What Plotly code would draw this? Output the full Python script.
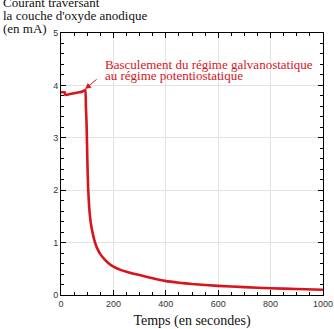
import plotly.graph_objects as go

# Time (s) and current (mA)
temps = [0, 5, 10, 14, 16, 20, 30, 40, 50, 60, 70, 80, 88, 93, 95, 98, 100, 102, 104,
         108, 113, 120, 130, 140, 150, 168, 185, 200, 232, 260, 282, 300, 350, 397,
         450, 500, 600, 700, 800, 900, 1000]
courant = [3.87, 3.87, 3.87, 3.87, 3.82, 3.82, 3.83, 3.84, 3.85, 3.86, 3.87, 3.88,
           3.90, 3.91, 3.6, 3.2, 2.7, 2.3, 2.0, 1.65, 1.4, 1.2, 1.0, 0.87, 0.78,
           0.67, 0.59, 0.54, 0.47, 0.43, 0.40, 0.38, 0.32, 0.27, 0.235, 0.21,
           0.175, 0.15, 0.13, 0.115, 0.10]

x_ticks = [0, 200, 400, 600, 800, 1000]
y_ticks = [0, 1, 2, 3, 4, 5]

ytitle_lines = ["Courant traversant", "la couche d'oxyde anodique", "(en mA)"]
note_lines = ["Basculement du régime galvanostatique", "au régime potentiostatique"]

RED = "#d8141c"
SERIF = "Liberation Serif, Times New Roman, serif"

fig = go.Figure()
fig.add_trace(go.Scatter(x=temps, y=courant, mode="lines",
                         line=dict(color=RED, width=2.6, shape="spline", smoothing=0.4),
                         hoverinfo="skip"))

axis_common = dict(
    showline=True, linecolor="black", linewidth=1, mirror="ticks",
    ticks="inside", ticklen=5, tickcolor="black",
    showgrid=True, gridcolor="#e3e3e3", gridwidth=1, zeroline=False,
    automargin=False,
    tickfont=dict(family="Liberation Sans, Arial, sans-serif", size=9, color="#333"),
)

fig.update_xaxes(range=[0, 1000], tickvals=x_ticks,
                 minor=dict(dtick=50, ticks="inside", ticklen=3, tickcolor="black", showgrid=False),
                 title=dict(text="Temps (en secondes)", font=dict(family=SERIF, size=14, color="#111"),
                            standoff=7),
                 **axis_common)
fig.update_yaxes(range=[0, 5], tickvals=y_ticks,
                 minor=dict(dtick=0.2, ticks="inside", ticklen=3, tickcolor="black", showgrid=False),
                 **axis_common)

annotations = []
ypix = [3, 15.5, 28]
for txt, py in zip(ytitle_lines, ypix):
    annotations.append(dict(text=txt, xref="paper", yref="paper", x=-0.229, y=(295 - py) / 262,
                            xanchor="left", yanchor="middle", showarrow=False,
                            font=dict(family=SERIF, size=13, color="#111")))
for txt, yv in zip(note_lines, [4.40, 4.18]):
    annotations.append(dict(text=txt, x=160, y=yv, xref="x", yref="y", xanchor="left",
                            yanchor="middle", showarrow=False,
                            font=dict(family=SERIF, size=13, color=RED)))
annotations.append(dict(text="", x=92, y=3.93, xref="x", yref="y", showarrow=True,
                        ax=13, ay=-11, arrowcolor=RED, arrowwidth=1, arrowhead=2, arrowsize=1.2))

fig.update_layout(
    width=334, height=329,
    margin=dict(l=61, r=11, t=33, b=34),
    paper_bgcolor="white", plot_bgcolor="white",
    showlegend=False,
    annotations=annotations,
)

fig.write_html("out.html")
